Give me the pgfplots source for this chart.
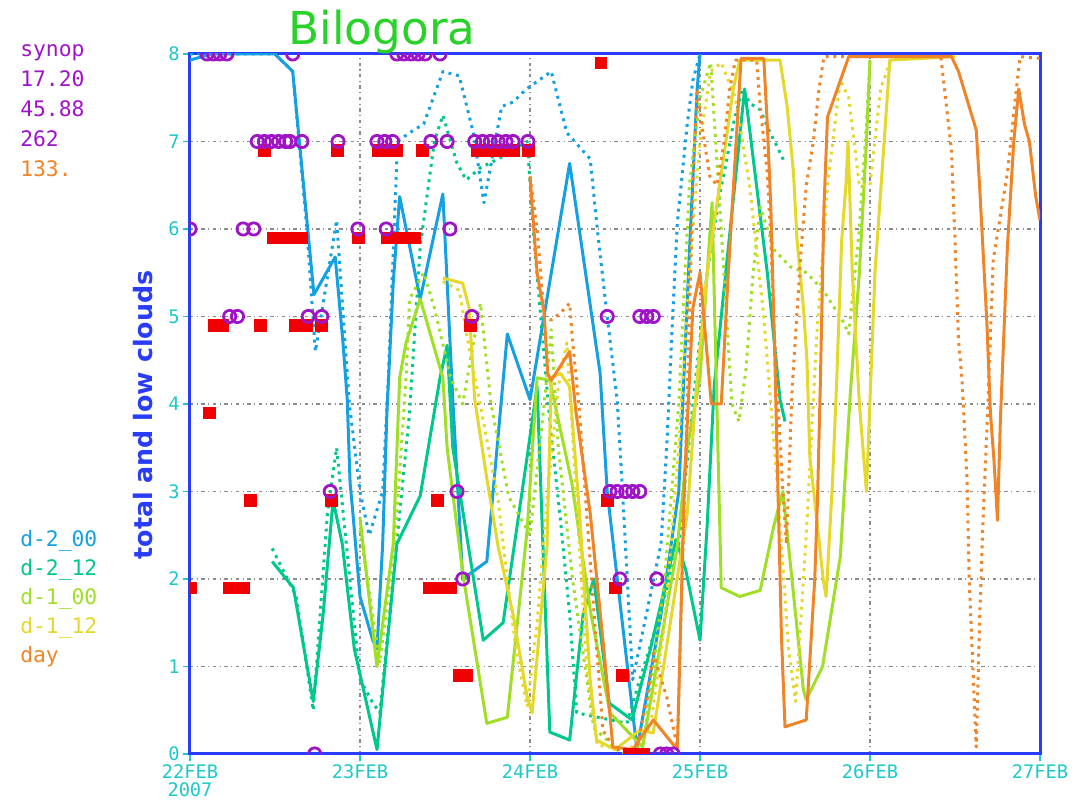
\documentclass[border=0pt]{standalone}
\usepackage{pgfplots}
\pgfplotsset{compat=1.18}
\usepackage{fontspec}
\setmainfont{DejaVu Sans}
\newfontfamily\monof{DejaVu Sans Mono}
\definecolor{cA}{RGB}{20,160,225}
\definecolor{cB}{RGB}{0,200,140}
\definecolor{cC}{RGB}{160,222,40}
\definecolor{cD}{RGB}{228,216,45}
\definecolor{cE}{RGB}{240,132,40}
\definecolor{cP}{RGB}{160,20,200}
\definecolor{cR}{RGB}{240,0,0}
\definecolor{cAx}{RGB}{40,60,250}
\definecolor{cTk}{RGB}{30,200,200}
\definecolor{cTitle}{RGB}{40,210,40}
\definecolor{cGrid}{RGB}{140,140,140}
\begin{document}
\begin{tikzpicture}
\path[use as bounding box] (-142.5pt,-36pt) rectangle (672pt,565.5pt);
\begin{axis}[
  at={(0,0)}, anchor=south west,
  width=637.5pt, height=525pt, scale only axis,
  xmin=0, xmax=120, ymin=0, ymax=8,
  xtick={0,24,48,72,96,120},
  xticklabels={22FEB\\2007,23FEB,24FEB,25FEB,26FEB,27FEB},
  xticklabel style={align=center, font=\monof\fontsize{14}{13}\selectfont, text=cTk, inner sep=0pt, yshift=-3pt},
  ytick={0,1,2,3,4,5,6,7,8},
  yticklabels={0,1,2,3,4,5,6,7,8},
  yticklabel style={font=\monof\fontsize{14}{14}\selectfont, text=cTk, inner sep=0pt, xshift=-2.5pt},
  tick pos=left,
  tick align=outside, major tick length=5pt,
  tick style={cTk, line width=1pt},
  axis line style={cAx, line width=2.25pt},
  grid=major,
  major grid style={cGrid, line width=1pt, dash pattern=on 2.6pt off 2.6pt on 0.8pt off 2.6pt},
  clip marker paths=true,
  every axis plot/.append style={line join=round},
]
% ---- d-2_00 (blue)
\addplot[cA, line width=2.25pt] coordinates {(0,7.93)(3,8)(6,8)(9,8)(12,8)(14.5,7.8)(17.5,5.25)(20.5,5.68)(21.6,4.7)(22.2,4.05)(22.6,3.1)(23,2.75)(24,1.8)(25.8,1.3)(26.4,1.2)(27.2,2.4)(27.8,3.9)(28.7,5.4)(29.6,6.37)(32.5,5.2)(35.7,6.4)(37.1,4.05)(38.5,2.0)(41.9,2.2)(44.8,4.8)(48,4.05)(53.6,6.75)(57.9,4.35)(58.9,3.0)(62.5,0.47)(63.1,0.05)(66.5,1.6)(69,3.0)(70.6,5.9)(71.6,7.6)(72,8)};
\addplot[cA, line width=2.25pt, dash pattern=on 2.2pt off 3.6pt] coordinates {(0,8)(6,8)(12,8)(14.5,7.8)(16.5,6.0)(17.7,4.6)(20.7,6.1)(22.5,4.0)(24,3.0)(25.3,2.5)(27.2,3.0)(28,4.3)(29.3,7.0)(31,7.1)(33,7.2)(35.7,7.8)(38,7.75)(40,7.1)(41.5,6.3)(44,7.4)(45.6,7.45)(47.5,7.6)(51,7.8)(53.2,7.1)(56.5,6.8)(57.5,6.0)(58.9,5.0)(60.3,4.05)(61,3.1)(62.5,0.85)(66.5,2.4)(67.3,3.5)(68.2,5.1)(68.8,6.07)(70.2,7.2)(71,7.7)(72,8)};
% ---- d-2_12 (teal)
\addplot[cB, line width=2.25pt] coordinates {(11.6,2.2)(14.6,1.9)(17.4,0.6)(18.8,1.6)(20.2,2.9)(21.5,2.4)(23.2,1.2)(26.4,0.05)(29.2,2.4)(32.5,2.95)(35.3,4.3)(36.3,4.67)(37.1,3.5)(41.4,1.3)(44.2,1.5)(47.6,3.4)(49,4.2)(50.8,0.25)(53.6,0.16)(55.5,1.6)(57,2.0)(59.2,0.58)(62.4,0.39)(65,1.2)(68.6,2.45)(70,2.1)(72,1.3)(73,2.6)(74,4.2)(75,5.0)(78.3,7.6)(81.5,5.5)(83.3,4.05)(84,3.8)};
\addplot[cB, line width=2.25pt, dash pattern=on 2.2pt off 3.6pt] coordinates {(11.6,2.35)(15,1.8)(17.4,0.5)(19.4,2.75)(20.7,3.5)(24,0.85)(25.7,0.6)(26.8,0.47)(29.6,2.75)(31,3.9)(32.5,5.8)(34.5,7.0)(35.7,7.3)(37.7,6.75)(39,6.56)(41,6.7)(43.5,6.8)(47.6,7.0)(48.5,5.95)(50.8,3.8)(52.2,2.75)(53.6,1.6)(54.6,0.47)(61.7,0.35)(63.5,0.85)(66,1.5)(69,2.4)(71,4.0)(73,5.5)(74.8,6.4)(75.8,6.8)(76.7,7.2)(78,7.6)(79,7.44)(80.5,7.36)(81.9,7.1)(82.9,6.94)(84,6.75)};
% ---- d-1_00 (yellow-green)
\addplot[cC, line width=2.25pt] coordinates {(24,2.7)(26.4,1.0)(28.7,2.4)(29.6,4.3)(30.5,4.7)(32.5,5.2)(35.7,4.3)(36.3,3.5)(38.5,2.07)(41.9,0.35)(44.8,0.42)(47.6,2.56)(49,4.3)(50.8,4.27)(53.9,3.1)(56.6,1.6)(59.3,0.47)(63.9,0.08)(68.8,2.37)(70.2,3.5)(72,4.3)(73.7,6.3)(75,1.9)(77.6,1.8)(80.5,1.87)(82.4,2.6)(83.7,3.0)(86.6,0.73)(87,0.62)(89.3,1.0)(91.8,2.25)(93.2,4.1)(94.5,5.5)(95.5,7.0)(96,7.93)};
\addplot[cC, line width=2.25pt, dash pattern=on 2.2pt off 3.6pt] coordinates {(24,2.56)(26.8,1.04)(29,2.5)(30.5,4.3)(31,5.2)(33,5.5)(34.5,5.1)(36.8,4.3)(38.5,4.0)(41,5.15)(42.5,4.0)(45,2.94)(48,2.5)(50,4.0)(51,4.85)(52,3.5)(54,2.0)(57,0.3)(61,0.0)(64,0.1)(67,2.0)(69,4.0)(70.5,6.5)(72,7.5)(73.5,7.9)(75,6.0)(76.5,4.0)(77.5,3.8)(78.5,4.4)(79.5,5.5)(80.5,6.25)(82.5,5.76)(84.7,5.57)(87,5.5)(89.4,5.3)(92.3,4.93)(93,4.8)(94.5,6.0)(95.5,7.2)(96,7.93)};
% ---- d-1_12 (yellow)
\addplot[cD, line width=2.25pt] coordinates {(35.7,5.44)(38.5,5.38)(39.4,5.1)(40.2,4.05)(42,3.1)(43.5,2.37)(45.6,1.6)(47.6,0.65)(48.3,0.47)(50.4,2.37)(51,4.3)(52.3,4.35)(53.6,4.2)(55,2.75)(56.5,0.85)(57.4,0.16)(60,0.05)(63.5,0.27)(65.4,0.24)(70.2,2.75)(71.6,4.3)(73,5.5)(75.3,6.8)(76.7,7.6)(77.6,7.93)(83.3,7.93)(84.3,7.4)(85.2,6.64)(85.7,5.87)(86.6,5.1)(87.1,4.5)(87.5,3.4)(88.5,2.67)(89.4,1.99)(89.8,1.8)(90.2,2.37)(90.7,3.1)(91.3,4.27)(92,5.87)(92.6,6.5)(92.9,7.0)(93.5,5.5)(94.5,4.0)(95.5,3.0)(96.7,5.5)(98,7.0)(98.8,7.93)(108,7.97)};
\addplot[cD, line width=2.25pt, dash pattern=on 2.2pt off 3.6pt] coordinates {(35.7,5.4)(38,5.3)(39.5,4.6)(41.2,3.9)(43.5,2.9)(44.8,2.0)(46,1.2)(47.6,0.54)(49,1.5)(50.5,3.0)(52,4.2)(53.2,4.7)(54.5,3.0)(56,1.0)(57.5,0.1)(62,0.05)(65,0.3)(67,1.5)(69,3.5)(70.5,5.5)(72,7.0)(73.5,7.8)(75,7.9)(77,7.5)(79,6.5)(81,5.0)(83,3.0)(84.5,1.2)(85.5,0.6)(87,2.5)(88.5,4.8)(90,6.5)(91.8,7.7)(93,7.5)(94.5,6.5)(96,6.5)(97.5,7.6)(99,7.95)(108,7.97)};
% ---- day (orange)
\addplot[cE, line width=2.25pt] coordinates {(48,6.6)(49,5.5)(50,5.04)(50.5,4.35)(51,4.27)(53.6,4.6)(54.5,3.9)(56.5,2.75)(58.4,1.22)(59.7,0.08)(62.5,0.05)(65.4,0.39)(68.8,0.05)(69.8,3.1)(71,5.1)(72,5.5)(73.6,4.0)(75,4.0)(76,5.5)(77.8,7.95)(81,7.95)(81.5,7.2)(82,6.25)(82.5,4.73)(83.5,1.34)(84,0.31)(87,0.39)(88.2,2.0)(88.6,2.94)(89,4.27)(89.5,6.25)(90,7.28)(93,7.97)(107.5,7.97)(108.5,7.8)(111,7.13)(111.5,6.45)(112.5,4.93)(113,3.9)(113.5,3.36)(114,2.67)(114.4,3.8)(115.4,5.8)(116.3,7.0)(117,7.6)(117.8,7.2)(118.5,7.0)(119.4,6.37)(120,6.1)};
\addplot[cE, line width=2.25pt, dash pattern=on 2.2pt off 3.6pt] coordinates {(48,6.6)(49,6.0)(50,5.0)(51,4.96)(52.3,5.04)(53.6,5.15)(54,4.73)(55,3.9)(56,2.75)(57.4,1.22)(58.3,0.27)(60,0.05)(63,0.05)(64.6,0.65)(65.4,1.15)(67.3,0.65)(68.8,0.08)(70,3.5)(71,6.5)(71.6,7.6)(72.6,7.0)(73.4,6.6)(74.4,6.5)(75.4,7.0)(76.2,7.6)(77,7.93)(80,7.93)(80.5,7.4)(81.5,6.64)(82,5.87)(82.3,5.1)(82.8,4.35)(83.7,3.0)(84.2,2.4)(85,4.16)(86.2,5.68)(87,6.5)(88,7.0)(88.8,7.6)(89.5,7.97)(106,7.97)(107.5,6.9)(108,5.87)(108.5,4.73)(109,4.27)(109.7,3.13)(110,2.0)(110.6,0.85)(111,0.08)(111.5,1.6)(112,2.75)(112.6,3.9)(113.4,5.65)(115.4,6.64)(116.8,7.7)(117.2,7.97)(120,7.95)};
% ---- synop: low clouds (red) and total clouds (purple)
\addplot[only marks, mark=square*, mark size=4.4pt, cR] coordinates {(0,1.9)(2.7,3.9)(3.4,4.9)(4.6,4.9)(5.5,1.9)(6.5,1.9)(7.6,1.9)(8.5,2.9)(9.9,4.9)(10.5,6.9)(11.7,5.9)(12.7,5.9)(13.7,5.9)(14.7,5.9)(15.7,5.9)(14.8,4.9)(16.5,4.9)(18.5,4.9)(19.9,2.9)(20.8,6.9)(23.8,5.9)(26.5,6.9)(27.5,6.9)(28.5,6.9)(29.2,6.9)(27.9,5.9)(29.7,5.9)(30.7,5.9)(31.7,5.9)(32.8,6.9)(34.9,2.9)(33.7,1.9)(34.7,1.9)(35.7,1.9)(36.7,1.9)(38,0.9)(39,0.9)(39.6,4.9)(40.6,6.9)(41.6,6.9)(42.6,6.9)(43.6,6.9)(44.6,6.9)(45.6,6.9)(47.8,6.9)(58,7.9)(58.9,2.9)(60,1.9)(61,0.9)(62,0)(63,0)(64,0)};
\addplot[only marks, mark=o, mark size=4.6pt, line width=2.1pt, cP] coordinates {(0,6)(2.4,8)(3.3,8)(4.2,8)(5.2,8)(5.6,5)(6.7,5)(7.5,6)(9,6)(9.5,7)(10.5,7)(11.5,7)(12.5,7)(13.5,7)(14.1,7)(14.5,8)(15.8,7)(16.7,5)(17.6,0)(18.6,5)(19.8,3)(20.9,7)(23.7,6)(26.4,7)(27.5,7)(27.7,6)(28.6,7)(29.2,8)(30.2,8)(31.2,8)(32.2,8)(33.2,8)(34,7)(35.3,8)(36.3,7)(36.7,6)(37.7,3)(38.5,2)(39.8,5)(40.2,7)(41.3,7)(42.4,7)(43.5,7)(44.6,7)(45.6,7)(47.7,7)(58.9,5)(59.3,3)(60.3,3)(60.7,2)(61.5,3)(62.5,3)(63.5,3)(63.5,5)(64.5,5)(65.4,5)(65.9,2)(66.4,0)(67.3,0)(68.2,0)};
\end{axis}
% title
\node[anchor=base, text=cTitle, font=\fontsize{34}{36}\selectfont] at (144pt,531.75pt) {Bilogora};
% y label
\node[rotate=90, text=cAx, font=\bfseries\fontsize{19}{20}\selectfont] at (-35.25pt,254.25pt) {total and low clouds};
% side texts
\begin{scope}[every node/.style={anchor=base west, inner sep=0pt, font=\monof\fontsize{16}{16}\selectfont}]
\node[text=cP] at (-127.5pt,522.75pt) {synop};
\node[text=cP] at (-127.5pt,500.25pt) {17.20};
\node[text=cP] at (-127.5pt,477.75pt) {45.88};
\node[text=cP] at (-127.5pt,455.25pt) {262};
\node[text=cE] at (-127.5pt,432.75pt) {133.};
\node[text=cA] at (-127.5pt,155.25pt) {d-2\_00};
\node[text=cB] at (-127.5pt,133.5pt) {d-2\_12};
\node[text=cC] at (-127.5pt,111.75pt) {d-1\_00};
\node[text=cD] at (-127.5pt,90pt) {d-1\_12};
\node[text=cE] at (-127.5pt,68.25pt) {day};
\end{scope}
\end{tikzpicture}
\end{document}
